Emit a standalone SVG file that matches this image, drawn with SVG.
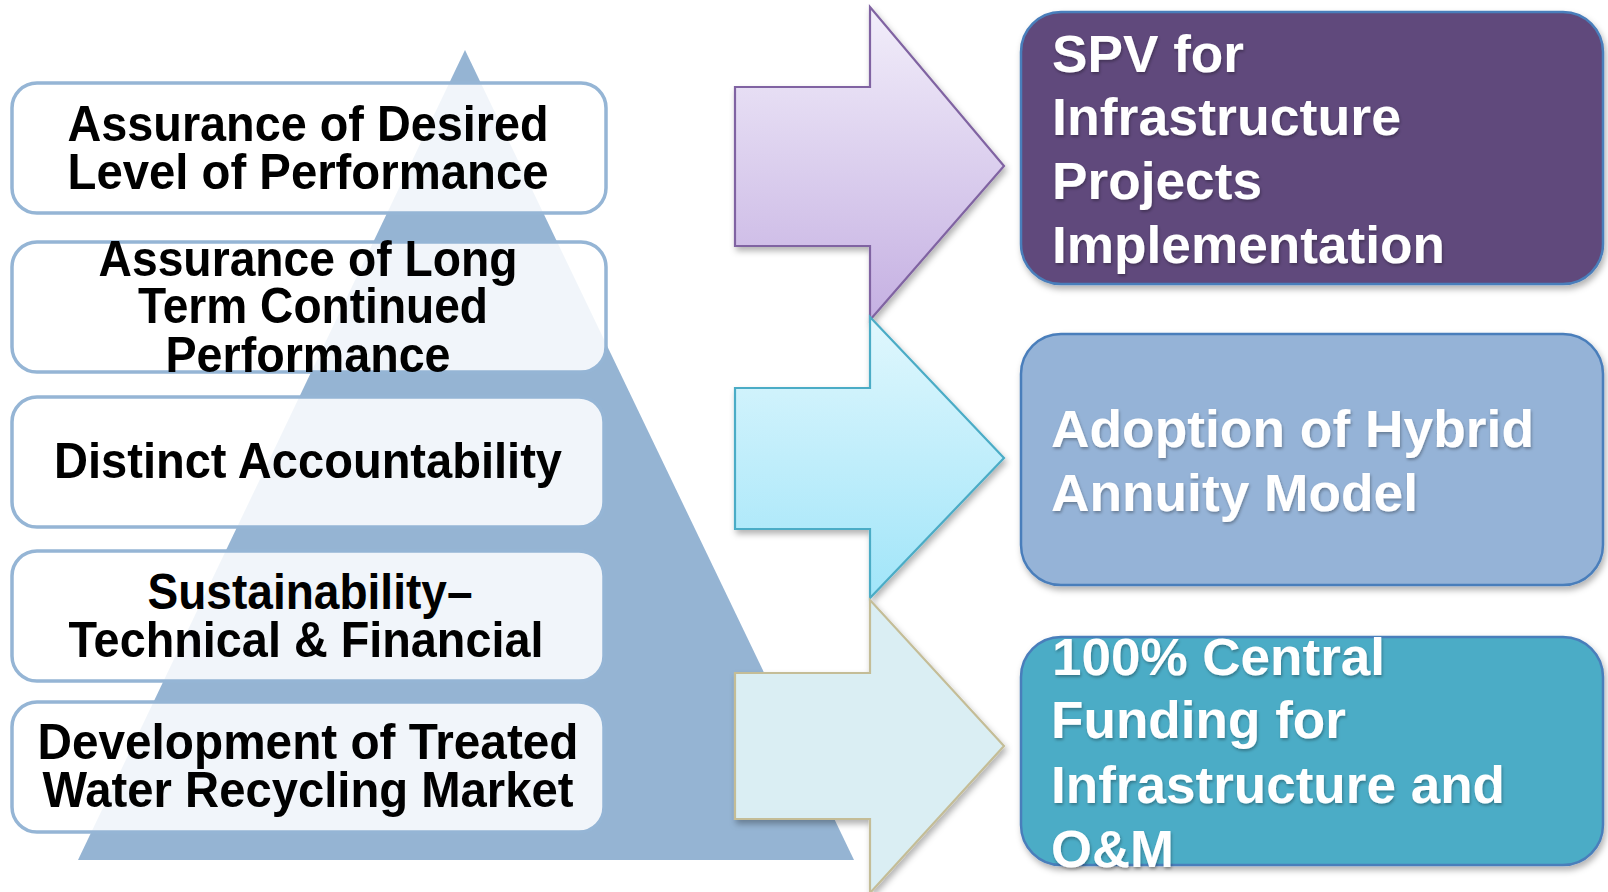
<svg xmlns="http://www.w3.org/2000/svg" width="1608" height="892" viewBox="0 0 1608 892">
  <style>
    .pillar { fill: #ffffff; fill-opacity: 0.87; stroke: #95B5D5; stroke-width: 3.5; }
    .ltxt { font-family: "Liberation Sans", Arial, sans-serif; font-weight: bold; font-size: 50px; fill: #000000; text-anchor: middle; }
    .rtxt { font-family: "Liberation Sans", Arial, sans-serif; font-weight: bold; font-size: 51px; fill: #ffffff; }
    .rbox { stroke: #4A7EBB; stroke-width: 2.5; }
    .arrow { stroke-width: 2.2; stroke-linejoin: miter; }
  </style>
  <defs>
    <linearGradient id="gPurple" x1="0" y1="0" x2="0" y2="1">
      <stop offset="0" stop-color="#F2EEFA"/>
      <stop offset="1" stop-color="#C5B0E2"/>
    </linearGradient>
    <linearGradient id="gCyan" x1="0" y1="0" x2="0" y2="1">
      <stop offset="0" stop-color="#E0F7FD"/>
      <stop offset="1" stop-color="#A1E5F9"/>
    </linearGradient>
    <filter id="shadow" x="-10%" y="-10%" width="125%" height="130%">
      <feDropShadow dx="2" dy="4" stdDeviation="3" flood-color="#000000" flood-opacity="0.3"/>
    </filter>
    <filter id="tshadow" x="-10%" y="-20%" width="130%" height="150%">
      <feDropShadow dx="1" dy="2" stdDeviation="1.5" flood-color="#000000" flood-opacity="0.3"/>
    </filter>
  </defs>

  <!-- background pyramid -->
  <polygon id="pyramid" points="465,50 854,860 78,860" fill="#95B4D3"/>

  <!-- pillar boxes over the pyramid -->
  <g id="pillar1">
    <rect class="pillar" x="12" y="83" width="594" height="130" rx="25"/>
    <text class="ltxt" x="308" y="141" textLength="481" lengthAdjust="spacingAndGlyphs">Assurance of Desired</text>
    <text class="ltxt" x="308" y="189" textLength="481" lengthAdjust="spacingAndGlyphs">Level of Performance</text>
  </g>
  <g id="pillar2">
    <rect class="pillar" x="12" y="242" width="594" height="130" rx="25"/>
    <text class="ltxt" x="308" y="276" textLength="419" lengthAdjust="spacingAndGlyphs">Assurance of Long</text>
    <text class="ltxt" x="313" y="323" textLength="350" lengthAdjust="spacingAndGlyphs">Term Continued</text>
    <text class="ltxt" x="308" y="372" textLength="285" lengthAdjust="spacingAndGlyphs">Performance</text>
  </g>
  <g id="pillar3">
    <rect class="pillar" x="12" y="397" width="592" height="130" rx="25"/>
    <text class="ltxt" x="308" y="478" textLength="508" lengthAdjust="spacingAndGlyphs">Distinct Accountability</text>
  </g>
  <g id="pillar4">
    <rect class="pillar" x="12" y="551" width="592" height="130" rx="25"/>
    <text class="ltxt" x="310" y="609" textLength="325" lengthAdjust="spacingAndGlyphs">Sustainability–</text>
    <text class="ltxt" x="306" y="657" textLength="475" lengthAdjust="spacingAndGlyphs">Technical &amp; Financial</text>
  </g>
  <g id="pillar5">
    <rect class="pillar" x="12" y="702" width="592" height="130" rx="25"/>
    <text class="ltxt" x="308" y="759" textLength="541" lengthAdjust="spacingAndGlyphs">Development of Treated</text>
    <text class="ltxt" x="308" y="807" textLength="531" lengthAdjust="spacingAndGlyphs">Water Recycling Market</text>
  </g>

  <!-- block arrows linking pillars to the funding models -->
  <g id="connectors">
    <polygon class="arrow" filter="url(#shadow)" fill="url(#gPurple)" stroke="#8064A2"
             points="735,87 870,87 870,7 1004,166 870,320 870,246 735,246"/>
    <polygon class="arrow" filter="url(#shadow)" fill="url(#gCyan)" stroke="#4BACC6"
             points="735,388 870,388 870,317 1004,458 870,598 870,529 735,529"/>
    <polygon class="arrow" filter="url(#shadow)" fill="#DAEEF3" stroke="#C4BD97"
             points="735,673 870,673 870,600 1004,746 870,893 870,819 735,819"/>
  </g>

  <!-- funding model boxes -->
  <g id="spv">
    <rect class="rbox" filter="url(#shadow)" x="1021" y="12" width="582" height="272" rx="40" fill="#604A7B"/>
    <g filter="url(#tshadow)">
      <text class="rtxt" x="1052" y="72" textLength="192" lengthAdjust="spacingAndGlyphs">SPV for</text>
      <text class="rtxt" x="1052" y="135" textLength="349" lengthAdjust="spacingAndGlyphs">Infrastructure</text>
      <text class="rtxt" x="1052" y="199" textLength="210" lengthAdjust="spacingAndGlyphs">Projects</text>
      <text class="rtxt" x="1052" y="263" textLength="393" lengthAdjust="spacingAndGlyphs">Implementation</text>
    </g>
  </g>
  <g id="ham">
    <rect class="rbox" filter="url(#shadow)" x="1021" y="334" width="582" height="251" rx="40" fill="#95B3D7"/>
    <g filter="url(#tshadow)">
      <text class="rtxt" x="1051" y="447" textLength="483" lengthAdjust="spacingAndGlyphs">Adoption of Hybrid</text>
      <text class="rtxt" x="1051" y="511" textLength="367" lengthAdjust="spacingAndGlyphs">Annuity Model</text>
    </g>
  </g>
  <g id="central">
    <rect class="rbox" filter="url(#shadow)" x="1021" y="637" width="582" height="228" rx="40" fill="#4BACC6"/>
    <g filter="url(#tshadow)">
      <text class="rtxt" x="1052" y="675" textLength="333" lengthAdjust="spacingAndGlyphs">100% Central</text>
      <text class="rtxt" x="1051" y="738" textLength="295" lengthAdjust="spacingAndGlyphs">Funding for</text>
      <text class="rtxt" x="1051" y="803" textLength="454" lengthAdjust="spacingAndGlyphs">Infrastructure and</text>
      <text class="rtxt" x="1051" y="867" textLength="123" lengthAdjust="spacingAndGlyphs">O&amp;M</text>
    </g>
  </g>
</svg>
